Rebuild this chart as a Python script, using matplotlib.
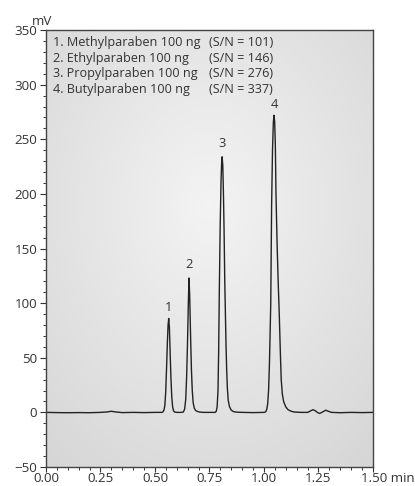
import numpy as np
import matplotlib.pyplot as plt
from matplotlib.ticker import MultipleLocator

# chromatogram trace (time in min, signal in mV)
time = [0.00, 0.05, 0.10, 0.15, 0.20, 0.25, 0.28, 0.30, 0.32, 0.35, 0.40, 0.45, 0.50, 0.530,
        0.536, 0.541, 0.545, 0.549, 0.553, 0.557, 0.560, 0.563, 0.566, 0.569, 0.573, 0.577,
        0.581, 0.585, 0.590, 0.600, 0.620,
        0.630, 0.636, 0.641, 0.645, 0.649, 0.653, 0.656, 0.659, 0.663, 0.667, 0.671, 0.675,
        0.680, 0.686, 0.695, 0.705, 0.720, 0.750,
        0.776, 0.781, 0.785, 0.789, 0.792, 0.795, 0.799, 0.803, 0.806, 0.808, 0.811, 0.814,
        0.817, 0.820, 0.823, 0.826, 0.829, 0.832, 0.836, 0.842, 0.850, 0.860, 0.875, 0.900,
        0.950, 1.000, 1.008, 1.013, 1.017, 1.021, 1.025, 1.028, 1.031, 1.035, 1.039, 1.043,
        1.046, 1.049, 1.052, 1.055, 1.060, 1.065, 1.070, 1.075, 1.079, 1.084, 1.090, 1.100,
        1.110, 1.125, 1.140, 1.170, 1.200, 1.215, 1.225, 1.235, 1.245, 1.255, 1.270, 1.283,
        1.295, 1.310, 1.350, 1.400, 1.450, 1.500]
signal = [0.0, -0.2, -0.3, -0.2, -0.3, 0.0, 0.4, 1.0, 0.4, -0.2, 0.0, -0.2, 0.0, 0.0,
          0.3, 2, 6, 18, 40, 65, 80, 86, 78, 58, 32, 14,
          5, 1.5, 0.3, 0.0, 0.0,
          0.3, 3, 12, 32, 62, 100, 123, 108, 72, 40, 20, 9,
          4, 1.8, 0.8, 0.3, 0.0, 0.0,
          0.0, 1, 5, 20, 55, 110, 170, 212, 230, 234, 226, 200,
          165, 121, 90, 60, 38, 22, 11, 5, 2, 0.7, 0.2, 0.0,
          -0.2, 0.0, 0.5, 3, 8, 20, 45, 72, 100, 190, 240, 266,
          272, 266, 245, 200, 155, 120, 90, 55, 30, 17, 10, 5,
          2.5, 1, 0.3, 0.0, 0.0, 1.5, 2.5, 1.5, 0.0, -1.0, 0.5, 2.0,
          1.0, 0.0, -0.3, 0.0, -0.2, 0.0]

# peak numbers and where they sit
peak_labels = ["1", "2", "3", "4"]
peak_x = [0.562, 0.655, 0.807, 1.047]
peak_y = [96, 135, 246, 282]

legend_names = ["1. Methylparaben 100 ng", "2. Ethylparaben 100 ng",
                "3. Propylparaben 100 ng", "4. Butylparaben 100 ng"]
legend_sn = ["(S/N = 101)", "(S/N = 146)", "(S/N = 276)", "(S/N = 337)"]

x_ticks = [0, 0.25, 0.5, 0.75, 1.0, 1.25, 1.5]
x_ticklabels = ["0.00", "0.25", "0.50", "0.75", "1.00", "1.25", ""]

plt.rcParams['font.family'] = ['Open Sans', 'DejaVu Sans']
txt = '#333333'

fig = plt.figure(figsize=(4.15, 4.86), dpi=100)
ax = fig.add_axes([0.1108, 0.0391, 0.788, 0.899])

# light grey background, brighter towards the middle
gx, gy = np.meshgrid(np.linspace(-1, 1, 200), np.linspace(-1, 1, 200))
r = np.sqrt(gx ** 2 + (gy - 0.2) ** 2) / 1.6
g = np.clip(0.955 - 0.12 * r, 0, 1)
bg = np.dstack([g, g, g])
ax.imshow(bg, extent=[0, 1.5, -50, 350], aspect='auto', origin='lower',
          interpolation='bilinear', zorder=0)

ax.plot(time, signal, c='#222222', lw=1.0, zorder=2)

for lab, px, py in zip(peak_labels, peak_x, peak_y):
    ax.text(px, py, lab, ha='center', va='center', fontsize=9.3, color=txt)

rows_y = [0.972, 0.936, 0.900, 0.864]
for name, sn, yy in zip(legend_names, legend_sn, rows_y):
    ax.text(0.021, yy, name, transform=ax.transAxes, fontsize=9.1, color=txt, va='center')
    ax.text(0.497, yy, sn, transform=ax.transAxes, fontsize=9.1, color=txt, va='center')

ax.set_xlim(0, 1.5)
ax.set_ylim(-50, 350)
ax.set_xticks(x_ticks)
ax.set_xticklabels(x_ticklabels)
ax.xaxis.set_minor_locator(MultipleLocator(0.05))
ax.yaxis.set_major_locator(MultipleLocator(50))
ax.yaxis.set_minor_locator(MultipleLocator(10))

ax.tick_params(axis='both', which='major', width=0.8, colors=txt, labelsize=9.6)
ax.tick_params(axis='y', which='major', length=4.3, pad=2)
ax.tick_params(axis='x', which='major', length=3.3, pad=0)
ax.tick_params(axis='both', which='minor', length=1.9, width=0.7, colors=txt)
for s in ax.spines.values():
    s.set_color('#444444')
    s.set_linewidth(1.0)

ax.text(-0.012, 1.005, "mV", transform=ax.transAxes, fontsize=9.6, color=txt,
        ha='center', va='bottom')
ax.annotate("1.50 min", xy=(1.5, 0), xycoords=('data', 'axes fraction'),
            xytext=(-8.5, -3.3), textcoords='offset points', fontsize=9.6, color=txt,
            ha='left', va='top')

fig.savefig('out.png', dpi=100)
